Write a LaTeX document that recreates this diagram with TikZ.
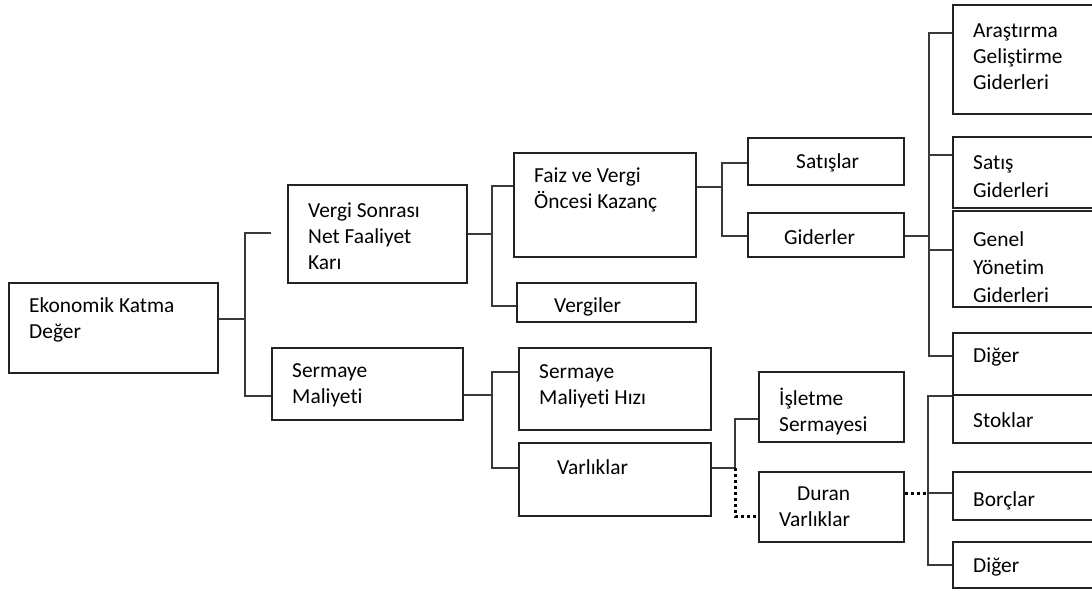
\documentclass[tikz,border=0pt]{standalone}
\usepackage{fontspec}
\setmainfont{Carlito}[Ligatures={NoCommon}]
\usetikzlibrary{fit}
\definecolor{boxc}{HTML}{222222}
\definecolor{connc}{HTML}{3A3A3A}
\tikzset{
 box/.style={draw=boxc, line width=1.3pt, inner sep=0pt},
 conn/.style={draw=connc, line width=1.3pt},
 dotl/.style={draw=black, line width=3pt, dash pattern=on 3pt off 3pt},
 txt/.style={anchor=west, inner sep=0pt, align=left, text=black, font=\fontsize{21.4}{26}\selectfont},
 txtr/.style={txt, font=\fontsize{21.4}{28}\selectfont}
}
\begin{document}
\begin{tikzpicture}[x=1pt,y=-1pt]
\useasboundingbox (0,0) rectangle (1092,591);
\fill[white] (0,0) rectangle (1092,591);
\clip (0,0) rectangle (1092,591);
% boxes
\node[box, fit={(9,283) (218,373)}] (ekd) {};
\node[box, fit={(288,185) (467,283)}] (vs) {};
\node[box, fit={(272,348) (463,420)}] (sm) {};
\node[box, fit={(514,153) (696,257)}] (fv) {};
\node[box, fit={(517,283) (696,322)}] (vg) {};
\node[box, fit={(519,348) (711,430)}] (smh) {};
\node[box, fit={(519,443) (711,516)}] (var) {};
\node[box, fit={(748,138) (904,185)}] (sat) {};
\node[box, fit={(748,213) (904,257)}] (gid) {};
\node[box, fit={(759,372) (904,442)}] (isl) {};
\node[box, fit={(759,472) (904,542)}] (dv) {};
\node[box, fit={(953,5) (1110,114)}] (r1) {};
\node[box, fit={(953,137) (1110,208)}] (r2) {};
\node[box, fit={(953,211) (1110,307)}] (r3) {};
\node[box, fit={(953,333) (1110,395)}] (r4) {};
\node[box, fit={(953,395) (1110,443)}] (r5) {};
\node[box, fit={(953,472) (1110,520)}] (r6) {};
\node[box, fit={(953,542) (1110,588)}] (r7) {};
% texts
\node[txt] (t-ekd) at (29,320) {Ekonomik Katma\\Değer};
\node[txt] (t-vs) at (308,236) {Vergi Sonrası\\Net Faaliyet\\Karı};
\node[txt] (t-sm) at (292,385.5) {Sermaye\\Maliyeti};
\node[txt] (t-fv) at (534,189.5) {Faiz ve Vergi\\Öncesi Kazanç};
\node[txt] (t-vg) at (554,307) {Vergiler};
\node[txt] (t-smh) at (539,386) {Sermaye\\Maliyeti Hızı};
\node[txt] (t-var) at (557,467) {Varlıklar};
\node[txt] (t-sat) at (796,163) {Satışlar};
\node[txt] (t-gid) at (784,237) {Giderler};
\node[txt] (t-isl) at (779,411) {İşletme\\Sermayesi};
\node[txt] (t-dv) at (779,506.5) {\hspace*{18pt}Duran\\Varlıklar};
\node[txt] (t-r1) at (973,57) {Araştırma\\Geliştirme\\Giderleri};
\node[txtr] (t-r2) at (973,177) {Satış\\Giderleri};
\node[txtr] (t-r3) at (973,267) {Genel\\Yönetim\\Giderleri};
\node[txt] (t-r4) at (973,357) {Diğer};
\node[txt] (t-r5) at (973,420) {Stoklar};
\node[txt] (t-r6) at (973,501) {Borçlar};
\node[txt] (t-r7) at (973,567) {Diğer};
% connectors
\coordinate (j1) at (245,319);
\draw[conn] (ekd.east |- j1) -- (j1);
\draw[conn] (271,233) -- (245,233) -- (245,396) -- (sm.west |- 0,396);
\coordinate (j2) at (492,234);
\draw[conn] (vs.east |- j2) -- (j2);
\draw[conn] (fv.west |- 0,186) -- (492,186) -- (492,306) -- (vg.west |- 0,306);
\coordinate (j3) at (722,187);
\draw[conn] (fv.east |- j3) -- (j3);
\draw[conn] (sat.west |- 0,163) -- (722,163) -- (722,236) -- (gid.west |- 0,236);
\coordinate (j4) at (929,236);
\draw[conn] (gid.east |- j4) -- (j4);
\draw[conn] (r1.west |- 0,33) -- (929,33) -- (929,356) -- (r4.west |- 0,356);
\draw[conn] (929,155) -- (r2.west |- 0,155);
\draw[conn] (929,250) -- (r3.west |- 0,250);
\coordinate (j5) at (492,395);
\draw[conn] (sm.east |- j5) -- (j5);
\draw[conn] (smh.west |- 0,372) -- (492,372) -- (492,468) -- (var.west |- 0,468);
\coordinate (j6) at (735,468);
\draw[conn] (var.east |- j6) -- (j6) -- (735,419) -- (isl.west |- 0,419);
\draw[dotl] (j6) -- (735,516) -- (dv.west |- 0,516);
\coordinate (j7) at (928,493);
\draw[dotl] (dv.east |- j7) -- (j7);
\draw[conn] (r5.west |- 0,396) -- (928,396) -- (928,565) -- (r7.west |- 0,565);
\draw[conn] (j7) -- (r6.west |- j7);
\end{tikzpicture}
\end{document}
